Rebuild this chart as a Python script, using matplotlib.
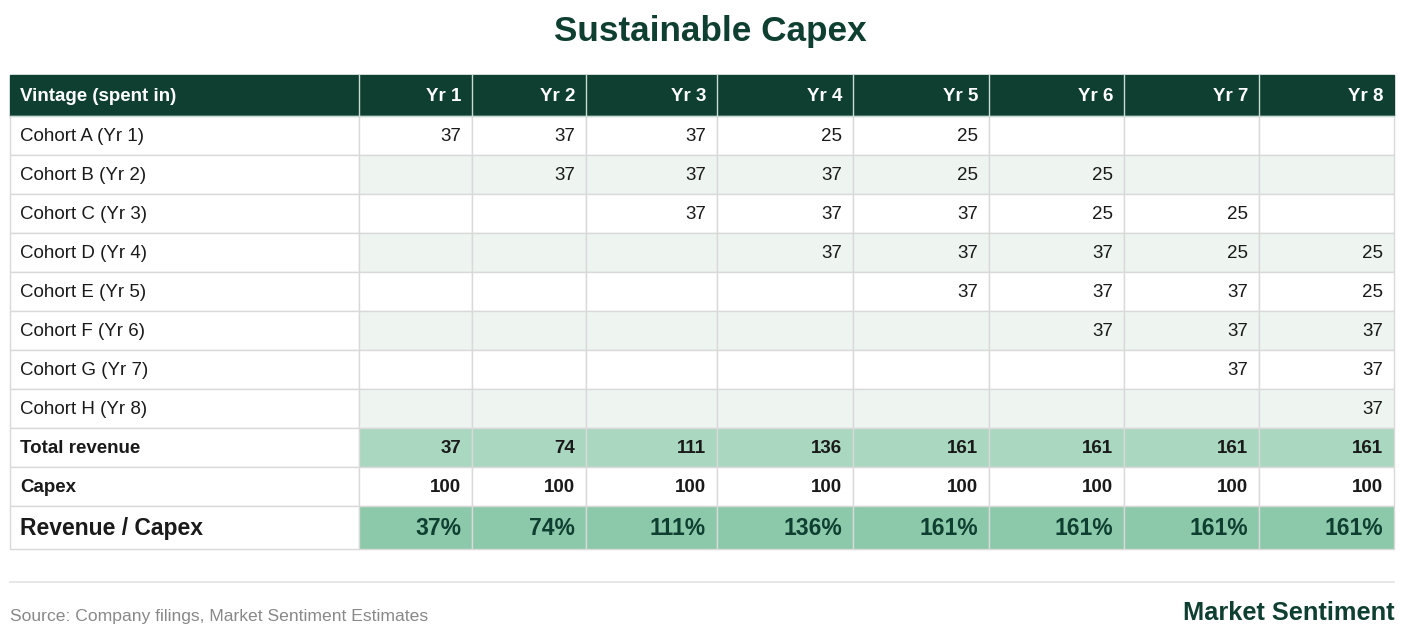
import matplotlib
matplotlib.use("Agg")
import matplotlib.pyplot as plt
from matplotlib.patches import Rectangle

plt.rcParams["font.family"] = ["Liberation Sans", "DejaVu Sans"]

# table data
col_headers = ["Yr 1", "Yr 2", "Yr 3", "Yr 4", "Yr 5", "Yr 6", "Yr 7", "Yr 8"]
cohorts = ["Cohort A (Yr 1)", "Cohort B (Yr 2)", "Cohort C (Yr 3)", "Cohort D (Yr 4)",
           "Cohort E (Yr 5)", "Cohort F (Yr 6)", "Cohort G (Yr 7)", "Cohort H (Yr 8)"]
cohort_a = [37, 37, 37, 25, 25, None, None, None]
cohort_b = [None, 37, 37, 37, 25, 25, None, None]
cohort_c = [None, None, 37, 37, 37, 25, 25, None]
cohort_d = [None, None, None, 37, 37, 37, 25, 25]
cohort_e = [None, None, None, None, 37, 37, 37, 25]
cohort_f = [None, None, None, None, None, 37, 37, 37]
cohort_g = [None, None, None, None, None, None, 37, 37]
cohort_h = [None, None, None, None, None, None, None, 37]
total_revenue = [37, 74, 111, 136, 161, 161, 161, 161]
capex = [100, 100, 100, 100, 100, 100, 100, 100]
rev_capex_pct = [37, 74, 111, 136, 161, 161, 161, 161]

cohort_rows = [cohort_a, cohort_b, cohort_c, cohort_d,
               cohort_e, cohort_f, cohort_g, cohort_h]

# colours
DARK = "#0e3f30"
STRIPE = "#eef5f1"
TOTAL_BG = "#a9d7c0"
RATIO_BG = "#8cc8aa"
GRID = "#d9d9d9"
TXT = "#1a1a1a"

fig = plt.figure(figsize=(14.2, 6.38), dpi=100)
ax = fig.add_axes([0, 0, 1, 1])
ax.set_xlim(0, 1420)
ax.set_ylim(638, 0)
ax.axis("off")

# layout in pixels
col_x = [10, 359, 472, 586, 717, 853, 989, 1124, 1259, 1394]
head_top, head_bot = 75, 116
row_h = 39
ratio_h = 43


def cell(x0, x1, y0, y1, fc, ec=GRID):
    ax.add_patch(Rectangle((x0, y0), x1 - x0, y1 - y0, facecolor=fc,
                           edgecolor=ec, linewidth=1))


# title
ax.text(710, 32, "Sustainable Capex", ha="center", va="center",
        fontsize=25.3, fontweight="bold", color=DARK)

# header
cell(col_x[0], col_x[-1], head_top, head_bot, DARK, ec=DARK)
for i in range(1, len(col_x) - 1):
    ax.plot([col_x[i], col_x[i]], [head_top, head_bot], color="#c9dcd3", lw=1)
ax.plot([col_x[0], col_x[-1]], [head_bot, head_bot], color="#c9dcd3", lw=1)
ax.text(col_x[0] + 10, (head_top + head_bot) / 2 + 1, "Vintage (spent in)",
        ha="left", va="center", fontsize=13.5, fontweight="bold", color="white")
for j, h in enumerate(col_headers):
    ax.text(col_x[j + 2] - 11, (head_top + head_bot) / 2 + 1, h, ha="right",
            va="center", fontsize=13.5, fontweight="bold", color="white")

# cohort rows
y = head_bot
for r, (label, vals) in enumerate(zip(cohorts, cohort_rows)):
    bg = STRIPE if r % 2 == 1 else "white"
    cell(col_x[0], col_x[1], y, y + row_h, "white")
    for j, v in enumerate(vals):
        cell(col_x[j + 1], col_x[j + 2], y, y + row_h, bg)
        if v is not None:
            ax.text(col_x[j + 2] - 11, y + row_h / 2 + 1, str(v), ha="right",
                    va="center", fontsize=13.5, color=TXT)
    ax.text(col_x[0] + 10, y + row_h / 2 + 1, label, ha="left", va="center",
            fontsize=13.5, color=TXT)
    y += row_h

# total revenue and capex rows
for label, vals, bg in [("Total revenue", total_revenue, TOTAL_BG),
                        ("Capex", capex, "white")]:
    cell(col_x[0], col_x[1], y, y + row_h, "white")
    ax.text(col_x[0] + 10, y + row_h / 2 + 1, label, ha="left", va="center",
            fontsize=13.5, fontweight="bold", color=TXT)
    for j, v in enumerate(vals):
        cell(col_x[j + 1], col_x[j + 2], y, y + row_h, bg)
        ax.text(col_x[j + 2] - 11, y + row_h / 2 + 1, str(v), ha="right",
                va="center", fontsize=13.5, fontweight="bold", color=TXT)
    y += row_h

# ratio row
cell(col_x[0], col_x[1], y, y + ratio_h, "white")
ax.text(col_x[0] + 10, y + ratio_h / 2 + 1, "Revenue / Capex", ha="left",
        va="center", fontsize=16.5, fontweight="bold", color=TXT)
for j, v in enumerate(rev_capex_pct):
    cell(col_x[j + 1], col_x[j + 2], y, y + ratio_h, RATIO_BG)
    ax.text(col_x[j + 2] - 11, y + ratio_h / 2 + 1, f"{v}%", ha="right",
            va="center", fontsize=16.5, fontweight="bold", color=DARK)
y += ratio_h

# footer
ax.plot([10, 1394], [582, 582], color="#e3e3e3", lw=1.2)
ax.text(10, 617, "Source: Company filings, Market Sentiment Estimates",
        ha="left", va="center", fontsize=12.6, color="#888888")
ax.text(1395, 613, "Market Sentiment", ha="right", va="center",
        fontsize=18.3, fontweight="bold", color=DARK)

fig.savefig("out.png", dpi=100)
